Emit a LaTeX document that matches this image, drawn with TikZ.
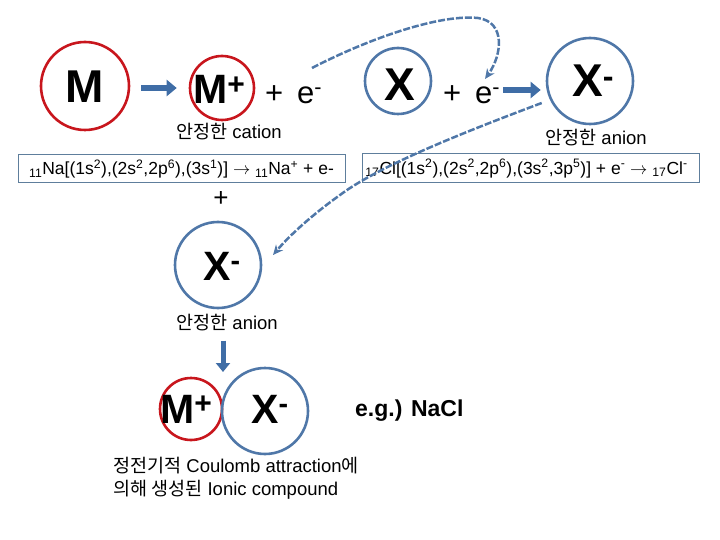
\documentclass[tikz,border=0pt]{standalone}
\usepackage{fontspec}
\setmainfont{Liberation Sans}
\newfontfamily\kr{Noto Sans CJK KR}
\usetikzlibrary{arrows.meta}
\definecolor{cred}{HTML}{C8161D}
\definecolor{cblue}{HTML}{4F77A8}
\definecolor{cbox}{HTML}{5E7E9C}
\definecolor{carrow}{HTML}{3F6DA6}
\begin{document}
\begin{tikzpicture}[x=1pt,y=-1pt,
  redc/.style={draw=cred,line width=2.6pt,circle,inner sep=0pt},
  bluec/.style={draw=cblue,line width=2.6pt,circle,inner sep=0pt},
  big/.style={font=\fontsize{46}{46}\selectfont\bfseries,inner sep=0pt},
  mid/.style={font=\fontsize{41}{41}\selectfont\bfseries,inner sep=0pt},
  thin/.style={font=\fontsize{31}{31}\selectfont,inner sep=0pt},
  lbl/.style={font=\fontsize{18.5}{18.5}\selectfont,inner sep=0pt},
  eqbox/.style={draw=cbox,line width=1pt,inner sep=0pt,font=\fontsize{17.5}{17.5}\selectfont},
  blockarrow/.style={line width=6pt,carrow,-{Triangle[length=10pt,width=16pt]}},
  dasharrow/.style={cblue,line width=2.5pt,dash pattern=on 7pt off 2pt,-{Stealth[length=10pt,width=9pt]}}
]
\useasboundingbox (0,0) rectangle (720,540);

% upper row
\node[redc,minimum size=88pt] (M) at (85,86) {};
\node[big] (Mt) at (85,87) {M};
\node[redc,minimum size=64pt] (Mp) at (222,88) {};
\node[mid,anchor=base west] (Mpt) at (193,104) {M\textsuperscript{\fontsize{30}{30}\selectfont +}};
\node[thin,anchor=base west] (e1) at (265,104) {+\, e\textsuperscript{-}};
\node[lbl,anchor=base] (cat) at (229,139) {{\kr 안정한} cation};

\node[bluec,minimum size=66pt] (X) at (398,81) {};
\node[big] (Xt) at (400,85) {X};
\node[thin,anchor=base west] (e2) at (443,104) {+\, e\textsuperscript{-}};
\node[bluec,minimum size=86pt] (Xm) at (590,81) {};
\node[big,anchor=base west] (Xmt) at (572,97) {X\textsuperscript{-}};
\node[lbl,anchor=base] (an1) at (596,145) {{\kr 안정한} anion};

\draw[blockarrow] ([xshift=11pt]M.east |- Mp.west) -- ([xshift=-12pt]Mp.west);
\draw[blockarrow] (e2.east |- 0,90) ++(3,0) coordinate (a2s) -- ([xshift=-5pt]Xm.west |- 0,90);

% boxes
\node[eqbox,minimum width=327pt,minimum height=28pt] (b1) at (181.5,169)
  {\textsubscript{11}Na[(1s\textsuperscript{2}),(2s\textsuperscript{2},2p\textsuperscript{6}),(3s\textsuperscript{1})] $\rightarrow$ \textsubscript{11}Na\textsuperscript{+} + e-};
\node[eqbox,minimum width=337pt,minimum height=29pt] (b2) at (530.5,168.5)
  {\textsubscript{17}Cl[(1s\textsuperscript{2}),(2s\textsuperscript{2},2p\textsuperscript{6}),(3s\textsuperscript{2},3p\textsuperscript{5})] + e\textsuperscript{-} $\rightarrow$ \textsubscript{17}Cl\textsuperscript{-}\hspace*{8pt}};

% middle
\node[font=\fontsize{26}{26}\selectfont,inner sep=0pt] (pl) at (221,199) {+};
\node[bluec,minimum size=86pt] (Xa) at (218,265) {};
\node[mid,anchor=base west] (Xat) at (203,280) {X\textsuperscript{-}};
\node[lbl,anchor=base] (an2) at (227,329) {{\kr 안정한} anion};

% dashed arrows
\coordinate (c1s) at (312,68);
\coordinate (c1e) at (485,79);
\draw[dasharrow] (c1s) .. controls (370,38) and (440,14) .. (478,18)
  .. controls (506,22) and (502,55) .. (c1e);
\coordinate (c2e) at (273,255);
\draw[dasharrow] ([shift={(-4,22)}]Xm.west) .. controls (470,130) and (380,165) .. (340,195)
  .. controls (312,215) and (290,235) .. (c2e);

% bottom
\node[redc,minimum size=62pt] (Mb) at (191,409) {};
\node[bluec,minimum size=86pt] (Xb) at (265,411) {};
\node[mid,anchor=base west] (Mbt) at (160,423) {M\textsuperscript{\fontsize{30}{30}\selectfont +}};
\node[mid,anchor=base west] (Xbt) at (251,423) {X\textsuperscript{-}};
\draw[line width=5pt,carrow,-{Triangle[length=9pt,width=14pt]}] (an2.south -| 223,0) ++(0,10) coordinate (a3s) -- (223,372) coordinate (a3e);
\node[font=\fontsize{23}{23}\selectfont\bfseries,anchor=base west,inner sep=0pt] (eg) at (355,416) {e.g.) NaCl};

\node[lbl,anchor=base west,align=left] (cap1) at (113,472) {{\kr 정전기적} Coulomb attraction{\kr 에}};
\node[lbl,anchor=base west,align=left] (cap2) at (113,495) {{\kr 의해 생성된} Ionic compound};
\end{tikzpicture}
\end{document}
